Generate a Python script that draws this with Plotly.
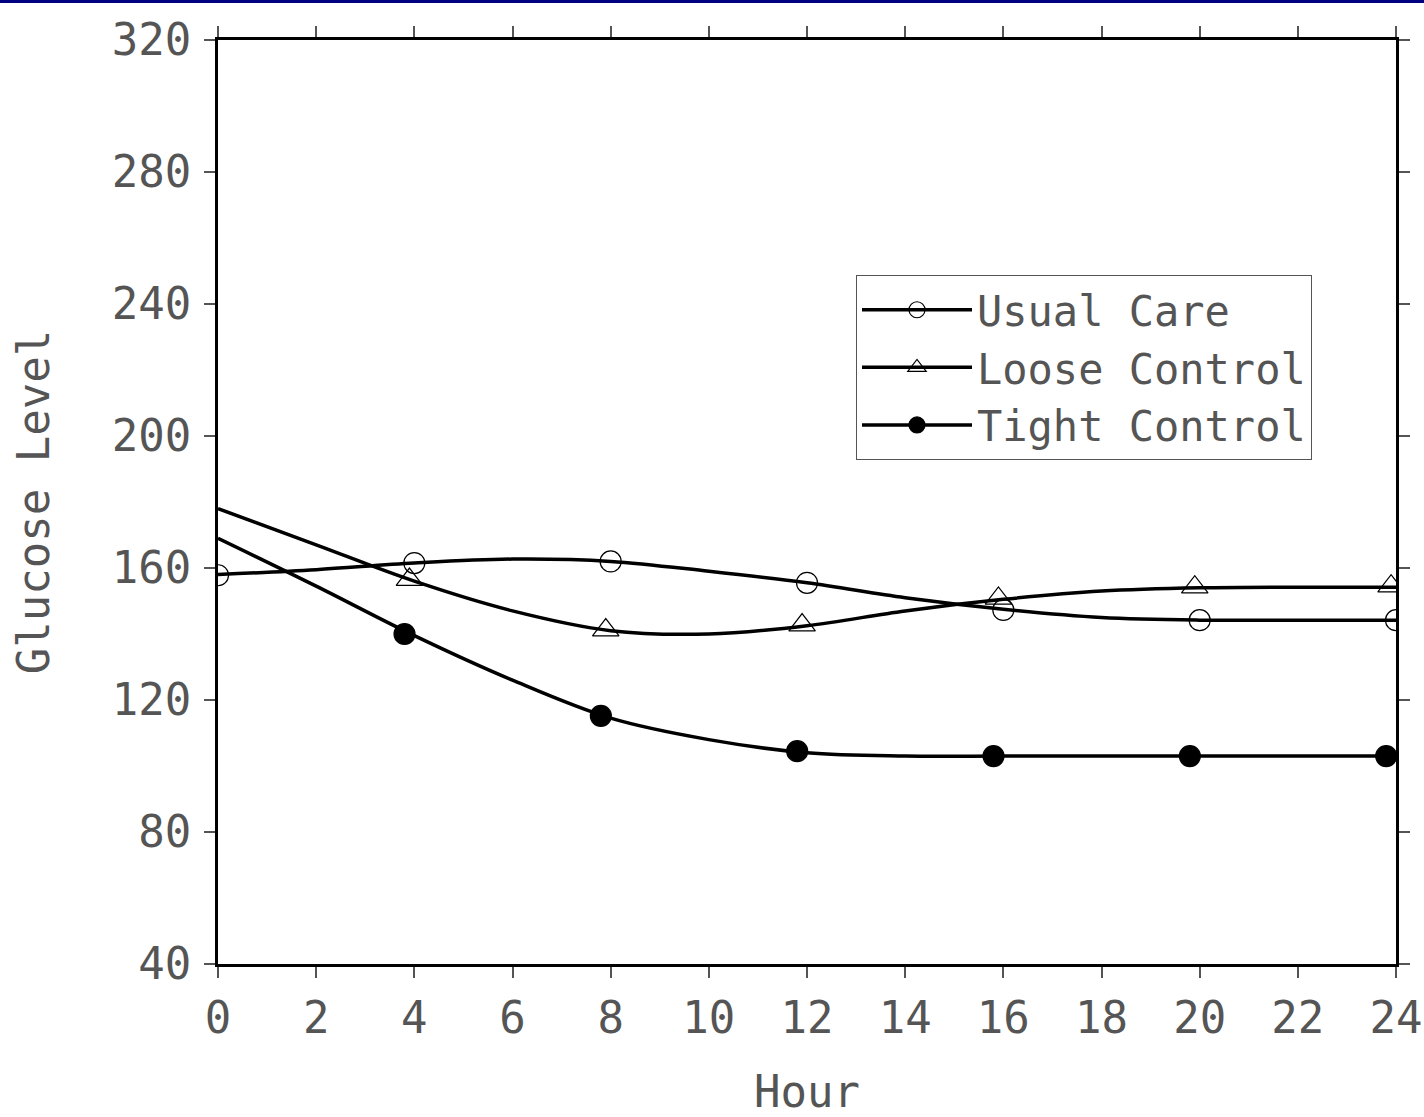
import plotly.graph_objects as go

# ---- data ----
curve_hours = [0, 2, 4, 6, 8, 10, 12, 14, 16, 18, 20, 22, 24]
usual_curve = [158, 159.5, 161.5, 162.7, 162, 159, 155.5, 151, 147.5, 145, 144.2, 144.2, 144.2]
loose_curve = [178, 167, 156, 147, 141, 140, 142.5, 147, 150.5, 153, 154, 154.2, 154.2]
tight_curve = [169, 154.5, 139.5, 126, 114.5, 108, 104, 103, 103, 103, 103, 103, 103]

usual_hours = [0, 4, 8, 12, 16, 20, 24]
usual_vals = [157.8, 161.5, 162, 155.5, 147.3, 144.2, 144.2]
loose_hours = [3.9, 7.9, 11.9, 15.9, 19.9, 23.9]
loose_vals = [156.5, 141.2, 142.7, 150.8, 154.2, 154.5]
tight_hours = [3.8, 7.8, 11.8, 15.8, 19.8, 23.8]
tight_vals = [140, 115.2, 104.5, 103, 103, 103]

series_names = ["Usual Care", "Loose Control", "Tight Control"]
x_ticks = list(range(0, 25, 2))
y_ticks = list(range(40, 321, 40))

FONT = "DejaVu Sans Mono"
WEIGHT = 200
TXT = "#555555"

fig = go.Figure()

curves = [(usual_curve, "circle-open", 21, usual_hours, usual_vals),
          (loose_curve, "triangle-up-open", 23, loose_hours, loose_vals),
          (tight_curve, "circle", 21, tight_hours, tight_vals)]

for name, (cv, sym, sz, mx, my) in zip(series_names, curves):
    fig.add_trace(go.Scatter(x=curve_hours, y=cv, mode="lines",
                             line=dict(color="black", width=3.5, shape="spline", smoothing=1.0),
                             showlegend=False, hoverinfo="skip"))
    fig.add_trace(go.Scatter(x=mx, y=my, mode="markers",
                             marker=dict(symbol=sym, size=sz,
                                         color="black", line=dict(color="black", width=1.2)),
                             showlegend=False))
    fig.add_trace(go.Scatter(x=[None], y=[None], mode="lines+markers", name=name,
                             line=dict(color="black", width=3.5),
                             marker=dict(symbol=sym, size=sz,
                                         color="black", line=dict(color="black", width=1.2))))

axis_common = dict(
    showgrid=False, zeroline=False, showline=True, linecolor="black", linewidth=3,
    mirror="ticks", ticks="outside", ticklen=11, tickwidth=1.5, tickcolor="#555555",
    automargin=False,
    tickfont=dict(family=FONT, size=44, color=TXT, weight=WEIGHT),
)

fig.update_xaxes(range=[0, 24], tickvals=x_ticks, ticktext=[str(v) for v in x_ticks],
                 ticklabelstandoff=2,
                 title=dict(text="Hour", font=dict(family=FONT, size=44, color=TXT, weight=WEIGHT), standoff=52),
                 **axis_common)
fig.update_yaxes(range=[40, 320], tickvals=y_ticks, ticktext=[str(v) for v in y_ticks],
                 ticklabelstandoff=4,
                 title=dict(text="Glucose Level", font=dict(family=FONT, size=44, color=TXT, weight=WEIGHT), standoff=49),
                 **axis_common)

fig.update_layout(
    width=1424, height=1117,
    margin=dict(l=218, r=28, t=40, b=153, autoexpand=False),
    paper_bgcolor="white", plot_bgcolor="white",
    legend=dict(x=0.5416, y=0.7457, xanchor="left", yanchor="top",
                bgcolor="white", bordercolor="#555555", borderwidth=1,
                font=dict(family=FONT, size=42, color=TXT, weight=WEIGHT),
                itemwidth=110, tracegroupgap=0),
    shapes=[dict(type="rect", xref="paper", yref="paper",
                 x0=-218 / 1178, x1=1 + 28 / 1178, y0=1 + 37 / 924, y1=1 + 40 / 924,
                 fillcolor="#000080", line=dict(width=0), layer="above")],
)

fig.write_html("out.html", post_script="document.body.style.margin='0';",
               config={"displayModeBar": False})
